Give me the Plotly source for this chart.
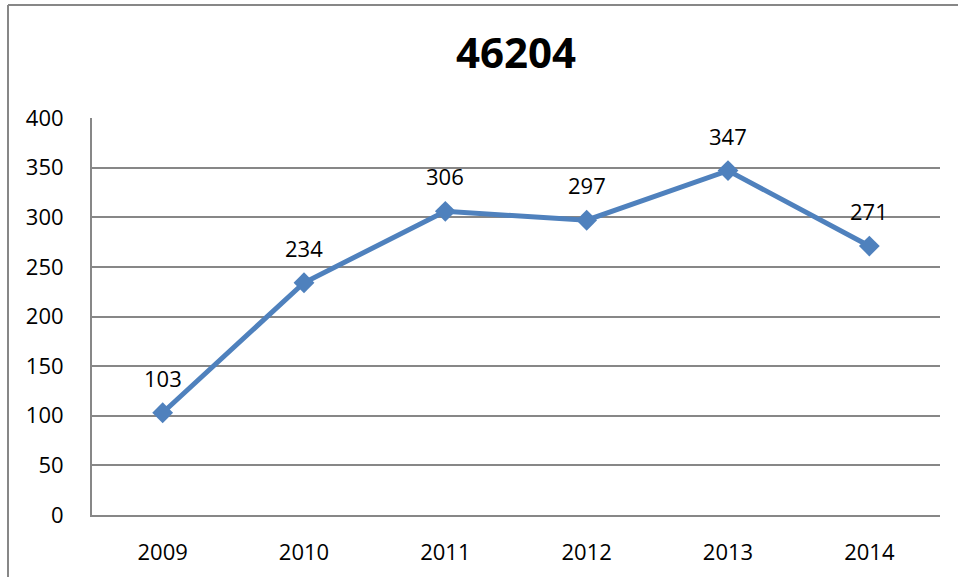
import plotly.graph_objects as go

years = ["2009", "2010", "2011", "2012", "2013", "2014"]
values = [103, 234, 306, 297, 347, 271]
y_ticks = [0, 50, 100, 150, 200, 250, 300, 350, 400]

L, R, T, B = 92, 18, 118, 62
W, H = 958, 577
pw, ph = W - L - R, H - T - B

fig = go.Figure()
fig.add_trace(go.Scatter(
    x=years, y=values, mode="lines+markers",
    line=dict(color="#4F81BD", width=5),
    marker=dict(symbol="diamond", size=16, color="#4F81BD"),
    hoverinfo="x+y", showlegend=False,
))

for i, v in enumerate(values):
    fig.add_annotation(x=i, y=v, xref="x", yref="y", text=str(v), showarrow=False, yshift=35,
                       font=dict(family="Open Sans", size=22, color="#000000"))

# outer chart border (left and top visible)
fx0 = (8 - L) / pw
fy_top = 1 + (T - 5) / ph
fy_bot = -(H - T) / ph
fig.add_shape(type="line", xref="paper", yref="paper", x0=fx0, x1=fx0, y0=fy_bot, y1=fy_top,
              line=dict(color="#878787", width=2))
fig.add_shape(type="line", xref="paper", yref="paper", x0=fx0, x1=1.1, y0=fy_top, y1=fy_top,
              line=dict(color="#878787", width=2))

fig.update_layout(
    width=W, height=H,
    margin=dict(l=L, r=R, t=T, b=B, autoexpand=False),
    paper_bgcolor="white", plot_bgcolor="white",
    font=dict(family="Open Sans", size=22, color="#000000"),
    title=dict(text="<b>46204</b>", x=0.5, xanchor="center", y=1 - 53 / H, yanchor="middle",
               xref="paper", font=dict(family="Open Sans", size=42, color="#000000")),
    xaxis=dict(type="category", range=[-0.5, 5.5], showgrid=False,
               showline=True, linecolor="#878787", linewidth=2,
               ticks="", ticklabelstandoff=17, tickfont=dict(size=22)),
    yaxis=dict(range=[0, 400], tickvals=y_ticks, showgrid=True, gridcolor="#878787", gridwidth=1.5,
               showline=True, linecolor="#878787", linewidth=2, zeroline=False,
               ticks="", ticklabelstandoff=22, tickfont=dict(size=22)),
)

fig.write_html("out.html", config={"displayModeBar": False},
               post_script="document.body.style.margin='0';")
